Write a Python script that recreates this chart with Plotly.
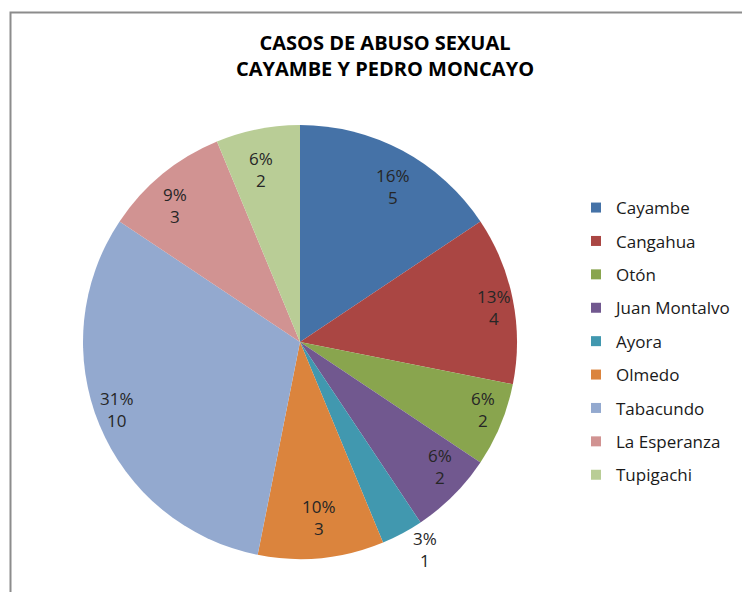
import math
import plotly.graph_objects as go

# ---- data ----
parroquias = ["Cayambe", "Cangahua", "Otón", "Juan Montalvo", "Ayora",
              "Olmedo", "Tabacundo", "La Esperanza", "Tupigachi"]
casos = [5, 4, 2, 2, 1, 3, 10, 3, 2]
porcentajes = [16, 13, 6, 6, 3, 10, 31, 9, 6]   # as printed on the chart
colores = ["#4572A7", "#AA4643", "#89A54E", "#71588F", "#4198AF",
           "#DB843D", "#93A9CF", "#D19392", "#B9CD96"]
titulo = "CASOS DE ABUSO SEXUAL<br>CAYAMBE Y PEDRO MONCAYO"

W, H = 750, 592
OFF = 8                      # page body margin offset
cx, cy, R = 300 - OFF, 342 - OFF, 217   # pie centre / radius in px (cy from top)
RX, RY = 230, 205            # label placement radii
FONT = "Open Sans"


def px2x(v):
    return v / W


def px2y(v):
    return 1 - v / H


fig = go.Figure()
fig.add_trace(go.Pie(
    labels=parroquias, values=casos, sort=False, direction="clockwise",
    rotation=0, marker=dict(colors=colores, line=dict(width=0)),
    textinfo="none", showlegend=False,
    domain=dict(x=[(cx - R) / W, (cx + R) / W],
                y=[(H - cy - R) / H, (H - cy + R) / H]),
))

# legend entries
for lab, col in zip(parroquias, colores):
    fig.add_trace(go.Scatter(x=[None], y=[None], mode="markers", name=lab,
                             legendgroup=lab,
                             marker=dict(symbol="square", size=10, color=col)))

# data labels
total = sum(casos)
acc = 0
annotations = []
for lab, v, p in zip(parroquias, casos, porcentajes):
    mid = (acc + v / 2) / total * 2 * math.pi
    acc += v
    k = 1.15 if v / total < 0.05 else 0.86
    lx = cx + k * RX * math.sin(mid)
    ly = cy - k * RY * math.cos(mid)
    annotations.append(dict(x=px2x(lx), y=px2y(ly), xref="paper", yref="paper",
                            text=f"{p}%<br>{v}", showarrow=False,
                            font=dict(family=FONT, size=17, color="#262626"),
                            xanchor="center", yanchor="middle"))

annotations.append(dict(x=px2x(385 - OFF), y=px2y(55 - OFF),
                        xref="paper", yref="paper",
                        text=f"<b>{titulo}</b>", showarrow=False,
                        font=dict(family=FONT, size=20, color="#000000"),
                        xanchor="center", yanchor="middle"))

fig.update_layout(
    width=W, height=H, margin=dict(l=0, r=0, t=0, b=0),
    paper_bgcolor="white", plot_bgcolor="white",
    xaxis=dict(visible=False), yaxis=dict(visible=False),
    annotations=annotations,
    legend=dict(x=px2x(576 - OFF), y=px2y(190 - OFF), xanchor="left",
                yanchor="top",
                font=dict(family=FONT, size=17, color="#1a1a1a"),
                tracegroupgap=8.3, bgcolor="rgba(0,0,0,0)"),
    shapes=[dict(type="rect", xref="paper", yref="paper",
                 x0=px2x(10.5 - OFF), x1=1.2, y0=-0.2, y1=px2y(12.5 - OFF),
                 line=dict(color="#8c8c8c", width=2))],
)

fig.write_html("out.html")
